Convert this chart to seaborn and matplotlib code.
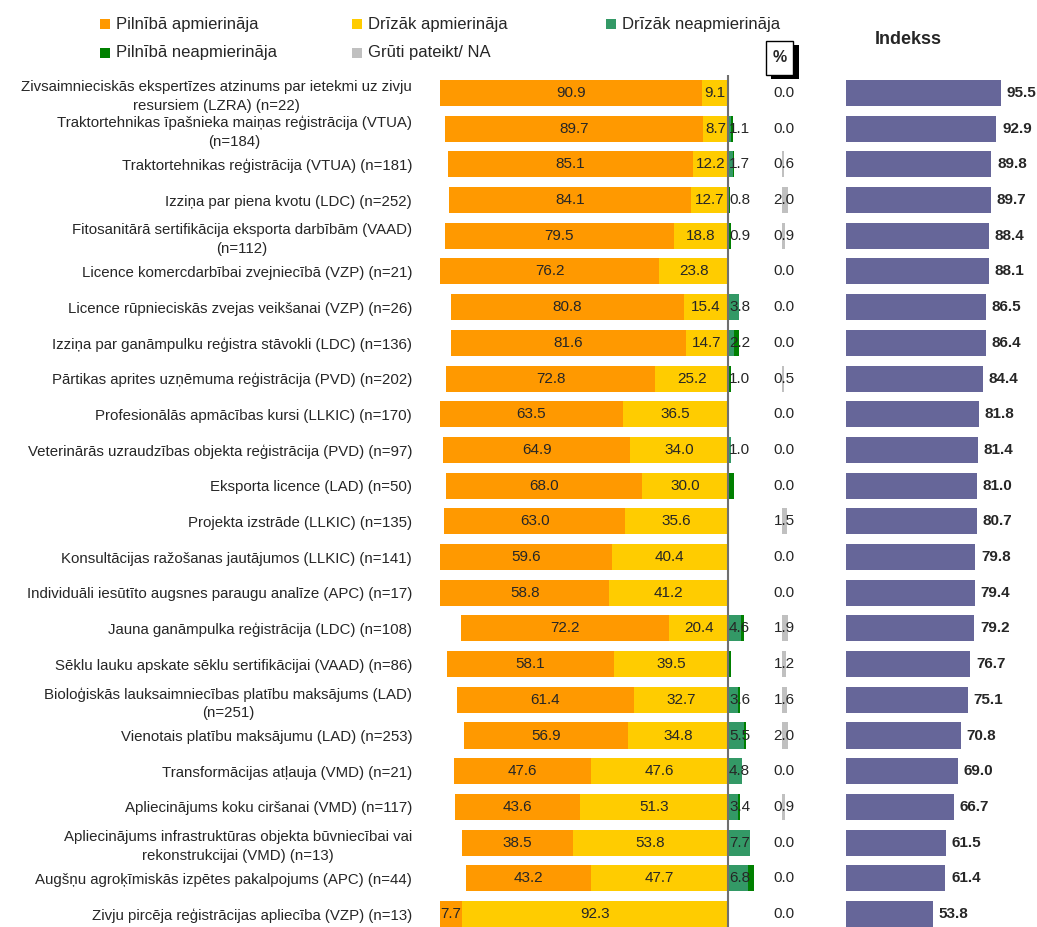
import pandas as pd
import matplotlib
matplotlib.use('Agg')
import matplotlib.pyplot as plt
from matplotlib.patches import Rectangle
import seaborn as sns

# ---------------------------------------------------------
# Dati (nolasīti no attēla)
# ---------------------------------------------------------
categories = [
    'Zivsaimnieciskās ekspertīzes atzinums par ietekmi uz zivju\nresursiem (LZRA) (n=22)',
    'Traktortehnikas īpašnieka maiņas reģistrācija (VTUA)\n(n=184)',
    'Traktortehnikas reģistrācija (VTUA) (n=181)',
    'Izziņa par piena kvotu (LDC) (n=252)',
    'Fitosanitārā sertifikācija eksporta darbībām (VAAD)\n(n=112)',
    'Licence komercdarbībai zvejniecībā (VZP) (n=21)',
    'Licence rūpnieciskās zvejas veikšanai (VZP) (n=26)',
    'Izziņa par ganāmpulku reģistra stāvokli (LDC) (n=136)',
    'Pārtikas aprites uzņēmuma reģistrācija (PVD) (n=202)',
    'Profesionālās apmācības kursi (LLKIC) (n=170)',
    'Veterinārās uzraudzības objekta reģistrācija (PVD) (n=97)',
    'Eksporta licence (LAD) (n=50)',
    'Projekta izstrāde (LLKIC) (n=135)',
    'Konsultācijas ražošanas jautājumos (LLKIC) (n=141)',
    'Individuāli iesūtīto augsnes paraugu analīze (APC) (n=17)',
    'Jauna ganāmpulka reģistrācija (LDC) (n=108)',
    'Sēklu lauku apskate sēklu sertifikācijai (VAAD) (n=86)',
    'Bioloģiskās lauksaimniecības platību maksājums (LAD)\n(n=251)',
    'Vienotais platību maksājumu (LAD) (n=253)',
    'Transformācijas atļauja (VMD) (n=21)',
    'Apliecinājums koku ciršanai (VMD) (n=117)',
    'Apliecinājums infrastruktūras objekta būvniecībai vai\nrekonstrukcijai (VMD) (n=13)',
    'Augšņu agroķīmiskās izpētes pakalpojums (APC) (n=44)',
    'Zivju pircēja reģistrācijas apliecība (VZP) (n=13)',
]

full_sat = [90.9, 89.7, 85.1, 84.1, 79.5, 76.2, 80.8, 81.6, 72.8, 63.5, 64.9, 68.0,
            63.0, 59.6, 58.8, 72.2, 58.1, 61.4, 56.9, 47.6, 43.6, 38.5, 43.2, 7.7]
part_sat = [9.1, 8.7, 12.2, 12.7, 18.8, 23.8, 15.4, 14.7, 25.2, 36.5, 34.0, 30.0,
            35.6, 40.4, 41.2, 20.4, 39.5, 32.7, 34.8, 47.6, 51.3, 53.8, 47.7, 92.3]
part_dis = [0.0, 1.1, 1.7, 0.0, 0.0, 0.0, 3.8, 2.2, 0.0, 0.0, 1.0, 0.0,
            0.0, 0.0, 0.0, 4.6, 0.0, 3.6, 5.5, 4.8, 3.4, 7.7, 6.8, 0.0]
full_dis = [0.0, 0.5, 0.4, 0.8, 0.9, 0.0, 0.0, 1.5, 1.0, 0.0, 0.0, 2.0,
            0.0, 0.0, 0.0, 0.9, 1.2, 0.6, 0.8, 0.0, 0.8, 0.0, 2.3, 0.0]
na_vals = [0.0, 0.0, 0.6, 2.0, 0.9, 0.0, 0.0, 0.0, 0.5, 0.0, 0.0, 0.0,
           1.5, 0.0, 0.0, 1.9, 1.2, 1.6, 2.0, 0.0, 0.9, 0.0, 0.0, 0.0]
index_vals = [95.5, 92.9, 89.8, 89.7, 88.4, 88.1, 86.5, 86.4, 84.4, 81.8, 81.4, 81.0,
              80.7, 79.8, 79.4, 79.2, 76.7, 75.1, 70.8, 69.0, 66.7, 61.5, 61.4, 53.8]

legend_labels = ['Pilnībā apmierināja', 'Drīzāk apmierināja', 'Drīzāk neapmierināja',
                 'Pilnībā neapmierināja', 'Grūti pateikt/ NA']

C_FULL_SAT = '#FF9900'
C_PART_SAT = '#FFCC00'
C_PART_DIS = '#339966'
C_FULL_DIS = '#008000'
C_NA = '#C0C0C0'
C_INDEX = '#666699'

df = pd.DataFrame({
    'kategorija': categories,
    'pilniba_apm': full_sat,
    'drizak_apm': part_sat,
    'drizak_neapm': part_dis,
    'pilniba_neapm': full_dis,
    'na': na_vals,
    'indekss': index_vals,
})
df['apm_kopa'] = -(df['pilniba_apm'] + df['drizak_apm'])
df['apm_drizak_neg'] = -df['drizak_apm']
df['neapm_kopa'] = df['drizak_neapm'] + df['pilniba_neapm']

# ---------------------------------------------------------
# Zīmēšana
# ---------------------------------------------------------
sns.set_style('white')
plt.rcParams['font.family'] = ['Liberation Sans', 'DejaVu Sans']

W, H = 1037, 927
fig = plt.figure(figsize=(W / 100, H / 100), dpi=100)


def px_axes(left, right, top, bottom):
    return fig.add_axes([left / W, 1 - bottom / H, (right - left) / W, (bottom - top) / H])


TOP, BOT = 75.1, 926.5
ax = px_axes(440, 762.6, TOP, BOT)
ax_na = px_axes(770, 800, TOP, BOT)
ax_idx = px_axes(846, 1024.2, TOP, BOT)

bar_kw = dict(y='kategorija', orient='h', width=0.73, saturation=1,
              errorbar=None, linewidth=0)

# apmierinātie pa kreisi, neapmierinātie pa labi
sns.barplot(data=df, x='apm_kopa', color=C_FULL_SAT, ax=ax, **bar_kw)
sns.barplot(data=df, x='apm_drizak_neg', color=C_PART_SAT, ax=ax, **bar_kw)
sns.barplot(data=df, x='neapm_kopa', color=C_FULL_DIS, ax=ax, **bar_kw)
sns.barplot(data=df, x='drizak_neapm', color=C_PART_DIS, ax=ax, **bar_kw)
sns.barplot(data=df, x='na', color=C_NA, ax=ax_na, **bar_kw)
sns.barplot(data=df, x='indekss', color=C_INDEX, ax=ax_idx, **bar_kw)

ax.axvline(0, color='#6f6f6f', lw=1.5, zorder=3)

FS = 11
for i, row in df.iterrows():
    f, p = row['pilniba_apm'], row['drizak_apm']
    ax.text(-(p + f / 2), i, f'{f:.1f}', ha='center', va='center', fontsize=FS, zorder=4)
    ax.text(-p / 2, i, f'{p:.1f}', ha='center', va='center', fontsize=FS, zorder=4)

    dp, fd = row['drizak_neapm'], row['pilniba_neapm']
    green_val = dp if dp > 0 else (fd if 0 < fd <= 1 else None)
    if green_val is not None:
        ax.text(max(green_val / 2, 4.0), i, f'{green_val:.1f}', ha='center', va='center',
                fontsize=FS, zorder=4)

    ax_na.text(0.7, i, f"{row['na']:.1f}", ha='center', va='center', fontsize=FS)
    ax_idx.text(row['indekss'] + 3.5, i, f"{row['indekss']:.1f}", ha='left', va='center',
                fontsize=FS, fontweight='bold')

ax.set_xlim(-100, 12)
ax_na.set_xlim(-4, 6)
ax_idx.set_xlim(0, 110)
for a in (ax, ax_na, ax_idx):
    a.set_ylim(23.35, -0.5)
    a.set_xticks([])
    a.set_xlabel('')
    a.set_ylabel('')
    sns.despine(ax=a, left=True, bottom=True)

for a in (ax_na, ax_idx):
    a.set_yticks([])

ax.set_yticks(range(len(categories)))
ax.set_yticklabels(categories, fontsize=10.8)
ax.tick_params(axis='y', length=0, pad=20)
for lbl in ax.get_yticklabels():
    lbl.set_multialignment('center')
    lbl.set_linespacing(1.4)

# leģenda
legend_items = [
    (100, 24, C_FULL_SAT, legend_labels[0]),
    (352, 24, C_PART_SAT, legend_labels[1]),
    (606, 24, C_PART_DIS, legend_labels[2]),
    (100, 53, C_FULL_DIS, legend_labels[3]),
    (352, 53, C_NA, legend_labels[4]),
]
for x0, yc, col, lab in legend_items:
    fig.add_artist(Rectangle((x0 / W, 1 - (yc + 5) / H), 10 / W, 10 / H,
                             transform=fig.transFigure, color=col, lw=0))
    fig.text((x0 + 16) / W, 1 - yc / H, lab, ha='left', va='center', fontsize=12)

# "%" lodziņš ar ēnu
fig.add_artist(Rectangle((771 / W, 1 - 79 / H), 28 / W, 34 / H,
                         transform=fig.transFigure, color='black', lw=0))
fig.add_artist(Rectangle((766 / W, 1 - 75 / H), 27 / W, 34 / H,
                         transform=fig.transFigure, facecolor='white',
                         edgecolor='black', lw=1))
fig.text(779.5 / W, 1 - 58 / H, '%', ha='center', va='center', fontsize=11.5,
         fontweight='bold')

fig.text(908 / W, 1 - 40 / H, 'Indekss', ha='center', va='center', fontsize=13,
         fontweight='bold')

fig.savefig('out.png', dpi=100)
